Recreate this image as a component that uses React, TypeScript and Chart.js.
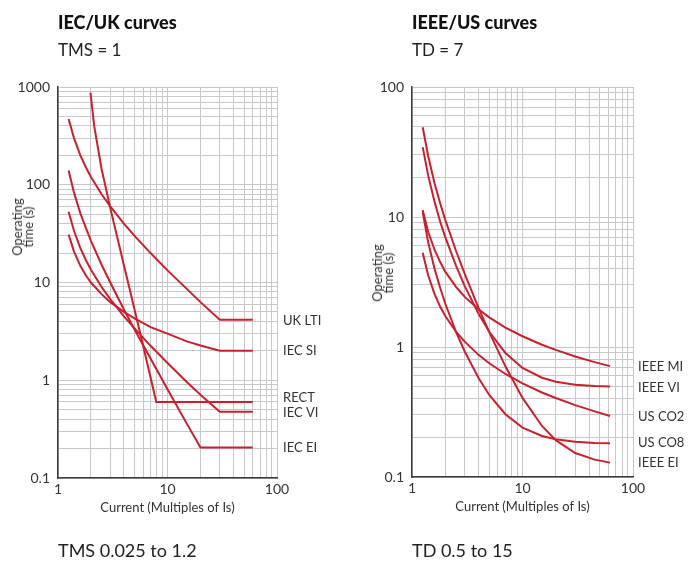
import React, { useEffect, useRef } from 'react';
import { Chart, registerables } from 'chart.js';

Chart.register(...registerables);

const FONT = 'Lato, "Noto Sans", sans-serif';
const RED = '#c8202f';
const GRID = '#c8c8c8';
const AXIS = '#3a3a3a';
const TEXT = '#333333';

// ---------- IEC / UK curves (TMS = 1) ----------
const iecNames = ['UK LTI', 'IEC SI', 'RECT', 'IEC VI', 'IEC EI'];
const iecCurrent = [1.25, 1.4, 1.6, 1.8, 2, 2.5, 3, 4, 5, 7, 10, 15, 20, 30, 60];
const ukLtiTime = [470, 300, 200, 150, 120, 80, 60, 40, 30, 20, 13.3, 8.6, 6.3, 4.15, 4.15];
const iecSiTime = [31, 20.7, 14.8, 11.8, 10, 7.6, 6.3, 5.0, 4.3, 3.5, 3.0, 2.5, 2.27, 2.0, 2.0];
const iecViTime = [53, 33.8, 22.5, 16.9, 13.5, 9, 6.75, 4.5, 3.4, 2.25, 1.5, 0.96, 0.71, 0.475, 0.475];
const iecEiCurrent = [1.25, 1.4, 1.6, 1.8, 2, 2.5, 3, 4, 5, 7, 10, 15, 20, 60];
const iecEiTime = [140, 83, 51, 36, 26.7, 15.2, 10, 5.3, 3.3, 1.67, 0.81, 0.36, 0.205, 0.205];
const rectCurrent = [1.98, 2.14, 2.5, 3, 4, 5, 6.3, 7.9, 60];
const rectTime = [875, 400, 145, 58, 15, 5.3, 1.77, 0.6, 0.6];

// ---------- IEEE / US curves (TD = 7) ----------
const ieeeNames = ['IEEE MI', 'IEEE VI', 'US CO2', 'US CO8', 'IEEE EI'];
const ieeeCurrent = [1.25, 1.4, 1.6, 1.8, 2, 2.5, 3, 4, 5, 7, 10, 15, 20, 30, 45, 62];
const ieeeMiTime = [11.3, 7.7, 5.6, 4.5, 3.8, 2.9, 2.43, 1.95, 1.69, 1.41, 1.21, 1.04, 0.95, 0.846, 0.765, 0.713];
const ieeeViTime = [34.5, 20.9, 13.1, 9.2, 7.0, 4.23, 2.94, 1.8, 1.31, 0.9, 0.69, 0.58, 0.54, 0.513, 0.501, 0.496];
const usCo2Time = [5.3, 3.56, 2.55, 2.04, 1.73, 1.31, 1.1, 0.87, 0.75, 0.62, 0.525, 0.447, 0.405, 0.357, 0.32, 0.295];
const usCo8Time = [10.9, 6.4, 4.0, 2.84, 2.16, 1.31, 0.924, 0.577, 0.428, 0.304, 0.24, 0.207, 0.195, 0.187, 0.183, 0.182];
const ieeeEiTime = [49, 29.5, 18.2, 12.7, 9.5, 5.5, 3.65, 2.0, 1.3, 0.71, 0.406, 0.247, 0.192, 0.153, 0.136, 0.129];

// ---------- axes ----------
const xGrid = [1, 2, 3, 4, 5, 6, 7, 8, 9, 10, 20, 30, 40, 50, 60, 70, 80, 90, 100];
const xLabels = [1, 10, 100];
const yGridIec = [
  0.1, 0.2, 0.3, 0.4, 0.5, 0.6, 0.7, 0.8, 0.9,
  1, 2, 3, 4, 5, 6, 7, 8, 9,
  10, 20, 30, 40, 50, 60, 70, 80, 90,
  100, 200, 300, 400, 500, 600, 700, 800, 900, 1000,
];
const yLabelsIec = [0.1, 1, 10, 100, 1000];
const yGridIeee = [
  0.1, 0.2, 0.3, 0.4, 0.5, 0.6, 0.7, 0.8, 0.9,
  1, 2, 3, 4, 5, 6, 7, 8, 9,
  10, 20, 30, 40, 50, 60, 70, 80, 90, 100,
];
const yLabelsIeee = [0.1, 1, 10, 100];

const xTitle = 'Current (Multiples of Is)';

const zip = (xs: number[], ys: number[]) => xs.map((x, i) => ({ x, y: ys[i] }));

const iecSeries = [
  zip(iecCurrent, ukLtiTime),
  zip(iecCurrent, iecSiTime),
  zip(rectCurrent, rectTime),
  zip(iecCurrent, iecViTime),
  zip(iecEiCurrent, iecEiTime),
];
const ieeeSeries = [
  zip(ieeeCurrent, ieeeMiTime),
  zip(ieeeCurrent, ieeeViTime),
  zip(ieeeCurrent, usCo2Time),
  zip(ieeeCurrent, usCo8Time),
  zip(ieeeCurrent, ieeeEiTime),
];

const endLabels = {
  id: 'endLabels',
  afterDatasetsDraw(chart: any, _args: any, opts: any) {
    const { ctx, chartArea } = chart;
    ctx.save();
    ctx.font = `${opts.size}px ${FONT}`;
    ctx.fillStyle = opts.color;
    ctx.textBaseline = 'middle';
    ctx.textAlign = 'left';
    chart.data.datasets.forEach((ds: any, i: number) => {
      const meta = chart.getDatasetMeta(i);
      const last = meta.data[meta.data.length - 1];
      ctx.fillText(ds.label, chartArea.right + opts.gap, last.y + (opts.nudge[i] || 0));
    });
    ctx.restore();
  },
};

type Cfg = {
  left: number;
  width: number;
  axisWidth: number;
  padRight: number;
  padBottom: number;
  yMax: number;
  yGrid: number[];
  yLabels: number[];
  names: string[];
  series: { x: number; y: number }[][];
  nudge: number[];
  labelGap: number;
};

function CurveChart({ cfg }: { cfg: Cfg }) {
  const ref = useRef<HTMLCanvasElement>(null);
  useEffect(() => {
    const chart = new Chart(ref.current as HTMLCanvasElement, {
      type: 'line',
      data: {
        datasets: cfg.series.map((pts, i) => ({
          label: cfg.names[i],
          data: pts,
          borderColor: RED,
          backgroundColor: RED,
          borderWidth: 2,
          pointRadius: 0,
          tension: 0,
          fill: false,
        })),
      },
      options: {
        animation: false,
        responsive: false,
        maintainAspectRatio: false,
        devicePixelRatio: 1,
        layout: { padding: { left: 0, top: 87, right: cfg.padRight, bottom: cfg.padBottom } },
        plugins: {
          legend: { display: false },
          tooltip: { enabled: false },
          title: { display: false },
          endLabels: { size: 13, color: TEXT, gap: cfg.labelGap, nudge: cfg.nudge },
        } as any,
        scales: {
          x: {
            type: 'logarithmic',
            min: 1,
            max: 100,
            afterBuildTicks: (s: any) => {
              s.ticks = xGrid.map((v) => ({ value: v }));
            },
            afterFit: (s: any) => {
              s.height = 50;
              s.paddingLeft = 0;
              s.paddingRight = 0;
            },
            grid: { color: GRID, lineWidth: 1, drawTicks: false },
            border: { display: true, color: AXIS, width: 1.5 },
            ticks: {
              autoSkip: false,
              maxRotation: 0,
              padding: 3,
              color: TEXT,
              font: { family: FONT, size: 14 },
              callback: (v: any) => (xLabels.includes(Number(v)) ? String(v) : ''),
            },
            title: {
              display: true,
              text: xTitle,
              color: TEXT,
              font: { family: FONT, size: 13 },
              padding: { top: 0, bottom: 12 },
            },
          },
          y: {
            type: 'logarithmic',
            min: 0.1,
            max: cfg.yMax,
            afterBuildTicks: (s: any) => {
              s.ticks = cfg.yGrid.map((v) => ({ value: v }));
            },
            afterFit: (s: any) => {
              s.width = cfg.axisWidth;
              s.paddingTop = 0;
              s.paddingBottom = 0;
            },
            grid: { color: GRID, lineWidth: 1, drawTicks: false },
            border: { display: true, color: AXIS, width: 1.5 },
            ticks: {
              autoSkip: false,
              padding: 8,
              color: TEXT,
              font: { family: FONT, size: 14 },
              callback: (v: any) => (cfg.yLabels.includes(Number(v)) ? String(v) : ''),
            },
          },
        },
      } as any,
      plugins: [endLabels as any],
    });
    return () => chart.destroy();
  }, []);
  return (
    <canvas
      ref={ref}
      width={cfg.width}
      height={561}
      style={{ position: 'absolute', left: cfg.left, top: 0, width: cfg.width, height: 561 }}
    />
  );
}

const textBase: React.CSSProperties = {
  position: 'absolute',
  fontFamily: FONT,
  color: '#222',
  whiteSpace: 'nowrap',
  margin: 0,
};

function YTitle({ cx, cy }: { cx: number; cy: number }) {
  return (
    <div
      style={{
        ...textBase,
        left: cx,
        top: cy,
        fontSize: 13,
        lineHeight: '11px',
        color: TEXT,
        textAlign: 'center',
        transform: 'translate(-50%, -50%) rotate(-90deg)',
      }}
    >
      Operating
      <br />
      time (s)
    </div>
  );
}

export default function App() {
  const left: Cfg = {
    left: 0,
    width: 350,
    axisWidth: 58,
    padRight: 73,
    padBottom: 33,
    yMax: 1000,
    yGrid: yGridIec,
    yLabels: yLabelsIec,
    names: iecNames,
    series: iecSeries,
    nudge: [1, 0, -4, 1, 0],
    labelGap: 6,
  };
  const right: Cfg = {
    left: 345,
    width: 344,
    axisWidth: 67,
    padRight: 56,
    padBottom: 34,
    yMax: 100,
    yGrid: yGridIeee,
    yLabels: yLabelsIeee,
    names: ieeeNames,
    series: ieeeSeries,
    nudge: [1, 1, 1, 0, 0],
    labelGap: 5,
  };
  return (
    <div style={{ position: 'fixed', left: 0, top: 0, width: 689, height: 561, background: '#fff', overflow: 'hidden' }}>
      <CurveChart cfg={left} />
      <CurveChart cfg={right} />
      <div style={{ ...textBase, left: 58, top: 12, fontSize: 18, fontWeight: 900, lineHeight: '20px', color: '#111' }}>IEC/UK curves</div>
      <div style={{ ...textBase, left: 58, top: 40, fontSize: 17, lineHeight: '20px' }}>TMS = 1</div>
      <div style={{ ...textBase, left: 412, top: 12, fontSize: 18, fontWeight: 900, lineHeight: '20px', color: '#111' }}>IEEE/US curves</div>
      <div style={{ ...textBase, left: 412, top: 40, fontSize: 17, lineHeight: '20px' }}>TD = 7</div>
      <YTitle cx={23} cy={227} />
      <YTitle cx={383} cy={273} />
      <div style={{ ...textBase, left: 58, top: 540, fontSize: 18, lineHeight: '20px' }}>TMS 0.025 to 1.2</div>
      <div style={{ ...textBase, left: 412, top: 540, fontSize: 18, lineHeight: '20px' }}>TD 0.5 to 15</div>
    </div>
  );
}
